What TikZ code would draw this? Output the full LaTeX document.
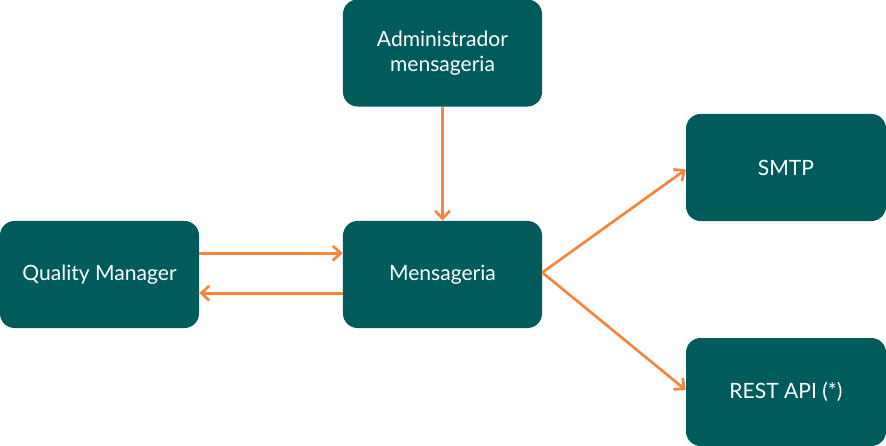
\documentclass[tikz,border=0pt]{standalone}
\usepackage{fontspec}
\setmainfont{Lato}
\usetikzlibrary{arrows.meta}
\definecolor{teal1}{HTML}{005B5B}
\definecolor{orng}{HTML}{F4853A}
\tikzset{
  box/.style={draw=none, fill=teal1, rounded corners=11pt, minimum width=149.3pt, minimum height=80.3pt, inner sep=0pt, text=white, align=center, font=\fontsize{15.8}{19}\selectfont},
  conn/.style={draw=orng, line width=2pt, -{Straight Barb[length=6pt,width=11pt,line width=2pt]}}
}
\begin{document}
\begin{tikzpicture}[x=0.75pt,y=-0.75pt]
\useasboundingbox (0,0) rectangle (886,446);
\node[box] (adm) at (442.5,53) {Administrador\\mensageria};
\node[box] (qm) at (99.5,274.5) {Quality Manager};
\node[box] (men) at (442.5,274.5) {Mensageria};
\node[box, minimum width=150pt] (smtp) at (786,167.5) {SMTP};
\node[box, minimum width=150pt, minimum height=81pt] (rest) at (786,392) {REST API (*)};
\draw[conn] (adm.south) -- (men.north);
\draw[conn] ([yshift=16pt]qm.east) -- ([yshift=16pt]men.west);
\draw[conn] ([yshift=-14pt]men.west) -- ([yshift=-14pt]qm.east);
\draw[conn] ([yshift=1.5pt]men.east) -- ([yshift=-1.5pt]smtp.west);
\draw[conn] ([yshift=1.5pt]men.east) -- ([yshift=1.5pt]rest.west);
\end{tikzpicture}
\end{document}
